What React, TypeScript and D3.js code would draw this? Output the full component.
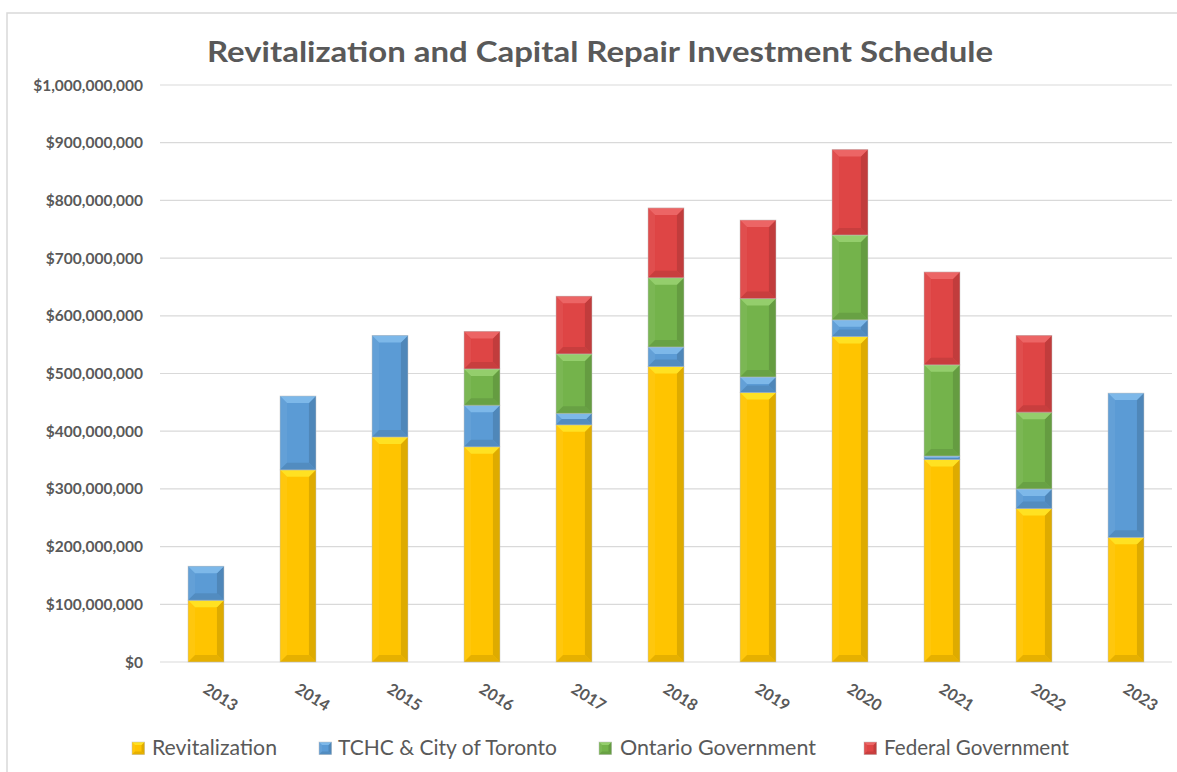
import React from "react";
import * as d3 from "d3";

const years = ["2013", "2014", "2015", "2016", "2017", "2018", "2019", "2020", "2021", "2022", "2023"];
const revitalization = [107, 333, 390, 373, 411, 512, 467, 564, 351, 266, 216];
const tchcCity = [59, 128, 176, 72, 20, 34, 27, 29, 6, 34, 250];
const ontarioGov = [0, 0, 0, 63, 103, 120, 136, 147, 158, 133, 0];
const federalGov = [0, 0, 0, 65, 100, 121, 136, 148, 161, 133, 0];
const seriesNames = ["Revitalization", "TCHC & City of Toronto", "Ontario Government", "Federal Government"];
const yTicks = [0, 100, 200, 300, 400, 500, 600, 700, 800, 900, 1000];
const title = "Revitalization and Capital Repair Investment Schedule";

const colors = ["#FFC400", "#5B9BD5", "#74B34B", "#DE4545"];
const topTint = ["#FFEE30", "#8CC4F2", "#A2DA7A", "#F27272"];
const textColor = "#595959";
const font = "Lato, 'Open Sans', 'DejaVu Sans', sans-serif";

const W = 1177;
const H = 772;
const plotL = 160, plotR = 1172, plotT = 85, plotB = 662;

function mix(c: string, t: string, k: number) {
  return d3.interpolateRgb(c, t)(k);
}

function Bevel({ x, y, w, h, ci, inset }: { x: number; y: number; w: number; h: number; ci: number; inset: number }) {
  if (h <= 0) return null;
  const color = colors[ci];
  const d = Math.max(0, Math.min(inset, h / 2, w / 2));
  const x2 = x + w, y2 = y + h;
  const top = `${x},${y} ${x2},${y} ${x2 - d},${y + d} ${x + d},${y + d}`;
  const bottom = `${x},${y2} ${x2},${y2} ${x2 - d},${y2 - d} ${x + d},${y2 - d}`;
  const left = `${x},${y} ${x + d},${y + d} ${x + d},${y2 - d} ${x},${y2}`;
  const right = `${x2},${y} ${x2 - d},${y + d} ${x2 - d},${y2 - d} ${x2},${y2}`;
  return (
    <g>
      <rect x={x} y={y} width={w} height={h} fill={color} />
      <polygon points={left} fill={mix(color, "#ffffff", 0.05)} />
      <polygon points={right} fill={mix(color, "#000000", 0.13)} />
      <polygon points={bottom} fill={mix(color, "#000000", 0.1)} />
      <polygon points={top} fill={mix(color, topTint[ci], 0.7)} />
      <rect x={x} y={y} width={w} height={h} fill="none" stroke="rgba(190,190,190,0.6)" strokeWidth={0.8} />
    </g>
  );
}

export default function App() {
  const x = d3.scaleBand<string>().domain(years).range([plotL, plotR]).paddingInner(0.61).paddingOuter(0.305);
  const y = d3.scaleLinear().domain([0, 1000]).range([plotB, plotT]);
  const series = [revitalization, tchcCity, ontarioGov, federalGov];
  const table = years.map((yr, i) => ({ year: yr, s0: series[0][i], s1: series[1][i], s2: series[2][i], s3: series[3][i] }));
  const stacked = d3.stack<any>().keys(["s0", "s1", "s2", "s3"])(table);
  const fmt = (v: number) => (v === 0 ? "$0" : "$" + d3.format(",")(v * 1e6));

  const legend = [
    { mx: 132, tx: 152, tw: 125 },
    { mx: 319, tx: 338, tw: 219 },
    { mx: 599, tx: 620, tw: 196 },
    { mx: 864, tx: 884, tw: 185 },
  ];

  return (
    <svg width={W} height={H} style={{ position: "absolute", left: 0, top: 0, background: "#fff" }} fontFamily={font}>
      <rect x={0} y={0} width={W} height={H} fill="#fff" />
      <rect x={7} y={13} width={W} height={H} fill="#fff" stroke="#d9d9d9" strokeWidth={1.5} />
      <text x={600} y={62} textAnchor="middle" fontSize={28} fontWeight="bold" fill={textColor} textLength={786} lengthAdjust="spacingAndGlyphs">
        {title}
      </text>
      {yTicks.map((t) => (
        <g key={t}>
          <line x1={plotL} x2={plotR} y1={y(t)} y2={y(t)} stroke="#d9d9d9" strokeWidth={1.2} />
          <text x={143} y={y(t) + 5.5} textAnchor="end" fontSize={15.5} fontWeight="bold" fill={textColor}>
            {fmt(t)}
          </text>
        </g>
      ))}
      {stacked.map((layer, si) => (
        <g key={si}>
          {layer.map((d, i) => (
            <Bevel key={i} x={x(years[i])!} y={y(d[1])} w={x.bandwidth()} h={y(d[0]) - y(d[1])} ci={si} inset={7} />
          ))}
        </g>
      ))}
      {years.map((yr) => (
        <text key={yr} transform={`translate(${x(yr)! + x.bandwidth() / 2 - 4},${692}) rotate(32)`} fontSize={16} fontWeight="bold" fill={textColor}>
          {yr}
        </text>
      ))}
      {legend.map((l, i) => (
        <g key={i}>
          <Bevel x={l.mx} y={742} w={12.5} h={12.5} ci={i} inset={3} />
          <text x={l.tx} y={755} fontSize={20.5} fill={textColor} textLength={l.tw} lengthAdjust="spacingAndGlyphs">
            {seriesNames[i]}
          </text>
        </g>
      ))}
    </svg>
  );
}
